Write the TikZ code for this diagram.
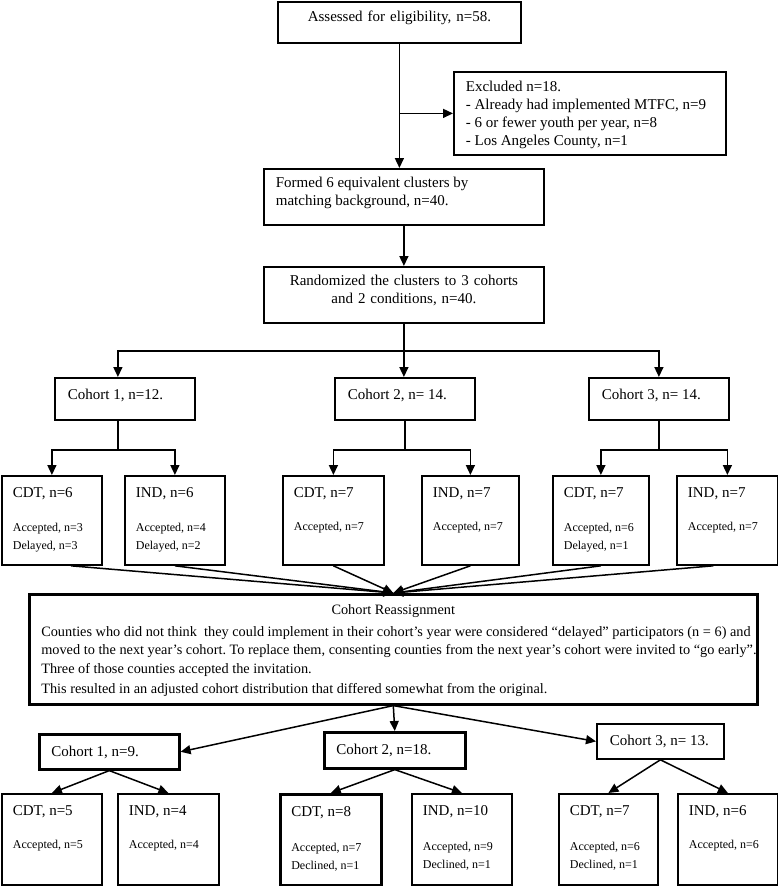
\documentclass[tikz,border=0pt]{standalone}
\usepackage{fontspec}
\setmainfont{Liberation Serif}
\usetikzlibrary{arrows.meta,positioning,calc}

\begin{document}
\begin{tikzpicture}[
  x=1pt, y=-1pt,
  box/.style={draw,line width=1.8pt,anchor=north west,inner xsep=12pt,inner ysep=0pt,align=flush left,font=\fontsize{15}{18}\selectfont},
  thickbox/.style={box,line width=2.6pt},
  arm/.style={box,inner xsep=11pt,text height=22pt,text depth=67pt},
  armlow/.style={box,inner xsep=11pt,text height=22pt,text depth=69pt},
  arrow/.style={-{Triangle[length=10pt,width=9pt]},line width=1.5pt},
  link/.style={line width=1.5pt}
]
\useasboundingbox (0,0) rectangle (778,886);

% screening
\node[box,text width=219pt,align=center,text height=20pt,text depth=21pt] (assess) at (277,1) {Assessed for eligibility, n=58.};
\node[box,text width=248pt,text height=20pt,text depth=63pt] (excl) at (453,71)
  {Excluded n=18.\\- Already had implemented MTFC, n=9\\- 6 or fewer youth per year, n=8\\- Los Angeles County, n=1};
\node[box,text width=256pt,text height=19pt,text depth=37pt] (formed) at (263,168)
  {Formed 6 equivalent clusters by\\matching background, n=40.};
\node[box,text width=256pt,align=center,text height=19pt,text depth=37pt] (rand) at (263,266)
  {Randomized the clusters to 3 cohorts\\and 2 conditions, n=40.};

% original cohorts
\node[box,text width=114pt,inner xsep=13pt,text height=22pt,text depth=20pt] (co1) at (54,377) {Cohort 1, n=12.};
\node[box,text width=114pt,inner xsep=13pt,text height=22pt,text depth=20pt] (co2) at (334,377) {Cohort 2, n= 14.};
\node[box,text width=114pt,inner xsep=13pt,text height=22pt,text depth=20pt] (co3) at (588,377) {Cohort 3, n= 14.};

\node[arm,text width=78pt] (c1cdt) at (1,475) {CDT, n=6\\[15pt]\fontsize{12}{19}\selectfont Accepted, n=3\\Delayed, n=3};
\node[arm,text width=78pt] (c1ind) at (124,475) {IND, n=6\\[15pt]\fontsize{12}{19}\selectfont Accepted, n=4\\Delayed, n=2};
\node[arm,text width=79pt] (c2cdt) at (282,475) {CDT, n=7\\[15pt]\fontsize{12}{19}\selectfont Accepted, n=7};
\node[arm,text width=75pt] (c2ind) at (421,475) {IND, n=7\\[15pt]\fontsize{12}{19}\selectfont Accepted, n=7};
\node[arm,text width=74pt] (c3cdt) at (552,475) {CDT, n=7\\[15pt]\fontsize{12}{19}\selectfont Accepted, n=6\\Delayed, n=1};
\node[arm,text width=79pt] (c3ind) at (676,475) {IND, n=7\\[15pt]\fontsize{12}{19}\selectfont Accepted, n=7};

% reassignment
\node[thickbox,text width=704pt,text height=20pt,text depth=90pt,font=\fontsize{14.3}{18.5}\selectfont] (reassign) at (28,593)
  {\makebox[\linewidth]{Cohort Reassignment}\\[3.5pt]
   \mbox{Counties who did not think\ \ they could implement in their cohort’s year were considered “delayed” participators (n = 6) and}\\
   \mbox{moved to the next year’s cohort.\ To replace them, consenting counties from the next year’s cohort were invited to “go early”.}\\
   \mbox{Three of those counties accepted the invitation.}\\[1.5pt]
   \mbox{This resulted in an adjusted cohort distribution that differed somewhat from the original.}};

% adjusted cohorts
\node[thickbox,text width=116pt,text height=22pt,text depth=13pt] (b1) at (38,733) {Cohort 1, n=9.};
\node[thickbox,text width=117pt,text height=22pt,text depth=14pt] (b2) at (323,731) {Cohort 2, n=18.};
\node[box,text width=109pt,inner xsep=9pt,text height=22pt,text depth=13pt] (b3) at (596,723) {\hspace*{4pt}Cohort 3, n= 13.};

\node[armlow,text width=78pt] (d1cdt) at (1,793) {CDT, n=5\\[15pt]\fontsize{12}{20}\selectfont Accepted, n=5};
\node[armlow,text width=79pt] (d1ind) at (117,793) {IND, n=4\\[15pt]\fontsize{12}{20}\selectfont Accepted, n=4};
\node[armlow,line width=2.6pt,text width=79pt] (d2cdt) at (279,793) {CDT, n=8\\[15pt]\fontsize{12}{20}\selectfont Accepted, n=7\\Declined, n=1};
\node[armlow,text width=78pt] (d2ind) at (411,793) {IND, n=10\\[15pt]\fontsize{12}{20}\selectfont Accepted, n=9\\Declined, n=1};
\node[armlow,text width=77pt] (d3cdt) at (558,793) {CDT, n=7\\[15pt]\fontsize{12}{20}\selectfont Accepted, n=6\\Declined, n=1};
\node[armlow,text width=78pt] (d3ind) at (677,793) {IND, n=6\\[15pt]\fontsize{12}{20}\selectfont Accepted, n=6};

% connectors
\draw[arrow] (assess.south) -- (assess.south |- formed.north);
\draw[arrow] (assess.south |- excl.west) -- (excl.west);
\draw[arrow] (formed) -- (rand);
\draw[link] (rand.south) -- ++(0,27) coordinate (split);
\draw[arrow] (split) -| ([xshift=-7pt]co1.north);
\draw[arrow] (split) -- (split |- co2.north);
\draw[arrow] (split) -| (co3.north);

\draw[link] ([xshift=-7pt]co1.south) -- ++(0,29) coordinate (s1);
\draw[arrow] (s1) -| (c1cdt.north);
\draw[arrow] (s1) -| (c1ind.north);
\draw[link] (co2.south) -- ++(0,29) coordinate (s2);
\draw[arrow] (s2) -| (c2cdt.north);
\draw[arrow] (s2) -| (c2ind.north);
\draw[link] (co3.south) -- ++(0,29) coordinate (s3);
\draw[arrow] (s3) -| (c3cdt.north);
\draw[arrow] (s3) -| (c3ind.north);

\draw[arrow] ([xshift=19pt]c1cdt.south) -- (reassign.north);
\draw[arrow] (c1ind.south) -- (reassign.north);
\draw[arrow] (c2cdt.south) -- (reassign.north);
\draw[arrow] (c2ind.south) -- (reassign.north);
\draw[arrow] (c3cdt.south) -- (reassign.north);
\draw[arrow] ([xshift=-14pt]c3ind.south) -- (reassign.north);

\draw[arrow] (reassign.south) -- (b1.east);
\draw[arrow] (reassign.south) -- (b2.north);
\draw[arrow] (reassign.south) -- (b3.west);

\draw[arrow] (b1.south) -- (d1cdt.north);
\draw[arrow] (b1.south) -- (d1ind.north);
\draw[arrow] (b2.south) -- (d2cdt.north);
\draw[arrow] (b2.south) -- (d2ind.north);
\draw[arrow] (b3.south) -- (d3cdt.north);
\draw[arrow] (b3.south) -- (d3ind.north);
\end{tikzpicture}
\end{document}
